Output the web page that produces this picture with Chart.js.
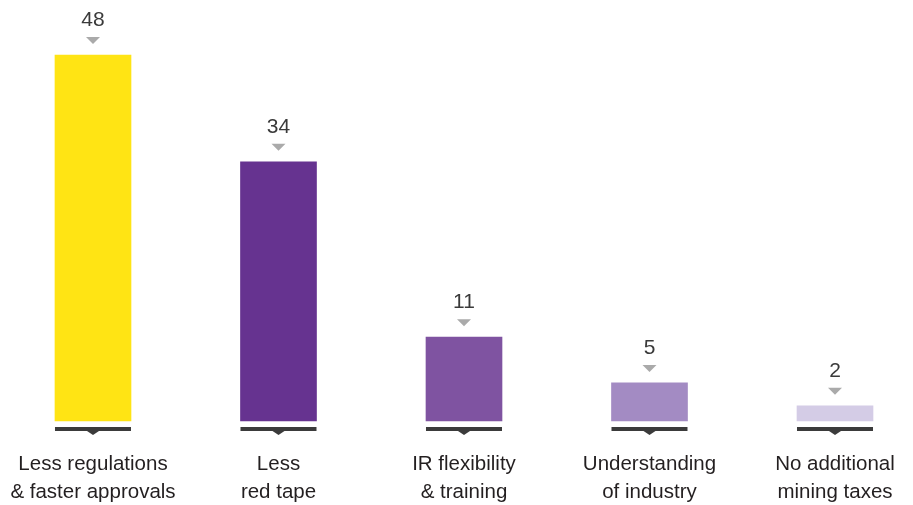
<!DOCTYPE html>
<html>
<head>
<meta charset="utf-8">
<script src="https://cdn.jsdelivr.net/npm/chart.js@4/dist/chart.umd.min.js"></script>
<style>
  html, body { margin: 0; padding: 0; background: #ffffff; }
  #wrap { position: relative; width: 913px; height: 505px; }
</style>
</head>
<body>
<div id="wrap"><canvas id="chart"></canvas></div>
<script>
// Survey responses: what would most help the industry
const categories = [
  ['Less regulations', '& faster approvals'],
  ['Less', 'red tape'],
  ['IR flexibility', '& training'],
  ['Understanding', 'of industry'],
  ['No additional', 'mining taxes']
];
const values = [48, 34, 11, 5, 2];
const barColors = ['#FFE414', '#663390', '#7F53A1', '#A38BC3', '#D4CCE6'];

const FONT = '"Liberation Sans", Arial, Helvetica, sans-serif';
const points = values.map((v, i) => ({ x: i, y: v }));

// Value labels with a small pointer above each bar, and a base rule with a notch below
const barDecor = {
  id: 'barDecor',
  afterDatasetsDraw(chart) {
    const ctx = chart.ctx;
    const meta = chart.getDatasetMeta(0);
    const base = chart.scales.y.getPixelForValue(0);
    ctx.save();
    meta.data.forEach((bar, i) => {
      const x = bar.x;
      const top = bar.y;
      const half = bar.width / 2;

      // value text
      ctx.fillStyle = '#3a3a3a';
      ctx.font = '21px ' + FONT;
      ctx.textAlign = 'center';
      ctx.textBaseline = 'middle';
      ctx.fillText(String(values[i]), x, top - 35);

      // grey pointer
      ctx.fillStyle = '#aaaaaa';
      ctx.beginPath();
      ctx.moveTo(x - 7, top - 18);
      ctx.lineTo(x + 7, top - 18);
      ctx.lineTo(x, top - 11);
      ctx.closePath();
      ctx.fill();

      // dark base rule with notch
      ctx.fillStyle = '#3b3b3b';
      ctx.beginPath();
      ctx.rect(x - half, base + 6, half * 2, 4);
      ctx.fill();
      ctx.beginPath();
      ctx.moveTo(x - 6, base + 10);
      ctx.lineTo(x + 6, base + 10);
      ctx.lineTo(x, base + 14);
      ctx.closePath();
      ctx.fill();
    });
    ctx.restore();
  }
};

new Chart(document.getElementById('chart'), {
  type: 'bar',
  data: {
    datasets: [{
      data: points,
      backgroundColor: barColors,
      barThickness: 76,
      borderWidth: 0,
      clip: false
    }]
  },
  options: {
    responsive: true,
    maintainAspectRatio: false,
    animation: false,
    layout: { padding: { top: 39.75, left: 0, right: 0, bottom: 0 } },
    plugins: {
      legend: { display: false },
      tooltip: { enabled: false }
    },
    scales: {
      x: {
        type: 'linear',
        offset: false,
        bounds: 'data',
        min: -0.5013,
        max: 4.4205,
        grid: { display: false, offset: false },
        border: { display: false },
        afterBuildTicks(axis) {
          axis.ticks = categories.map((_, i) => ({ value: i }));
        },
        afterFit(axis) {
          axis.height = 84;
          axis.paddingLeft = 0;
          axis.paddingRight = 0;
        },
        ticks: {
          color: '#231f20',
          font: { family: FONT, size: 20.5, lineHeight: 1.37 },
          padding: 21,
          maxRotation: 0,
          minRotation: 0,
          autoSkip: false,
          callback(value) {
            return categories[value] || '';
          }
        }
      },
      y: {
        display: false,
        min: 0,
        max: 50
      }
    }
  },
  plugins: [barDecor]
});
</script>
</body>
</html>
